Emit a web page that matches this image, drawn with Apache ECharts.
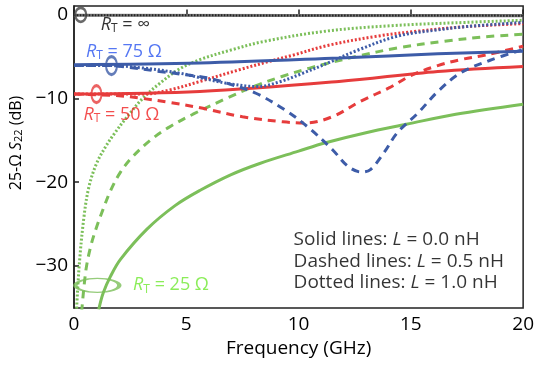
<!DOCTYPE html>
<html><head><meta charset="utf-8">
<script src="https://cdn.jsdelivr.net/npm/echarts@6/dist/echarts.min.js"></script>
<style>html,body{margin:0;padding:0;background:#fff}#c{width:537px;height:367px}</style>
</head><body><div id="c"></div>
<script>
// ---- data (frequency in GHz, S22 in dB) ----
const xTicks = [0, 5, 10, 15, 20];
const yTicks = [-30, -20, -10, 0];

const blackX = [0, 20];
const blackY = [-0.1, -0.15];

const blueSolidX = [0, 5.6, 11.8, 16.2, 20];
const blueSolidY = [-6.0, -5.8, -5.2, -4.7, -4.4];
const blueDashX = [0, 1.5, 2.4, 3.8, 5.0, 6.0, 6.8, 8.1, 9.4, 10.4, 11.5, 12.2, 12.8, 13.2, 13.8, 14.4, 15.3, 16.2, 17.2, 18.5, 20];
const blueDashY = [-6.1, -6.1, -6.3, -6.8, -7.2, -7.6, -8.2, -9.4, -11.4, -13.4, -16.1, -18.1, -18.8, -18.5, -16.5, -14.1, -11.8, -9.2, -7.0, -5.5, -4.2];
const blueDotX = [0, 1.5, 3.1, 4.7, 5.7, 7.0, 8.2, 9.2, 10.2, 11.3, 12.6, 14.4, 16.2, 17.5, 20];
const blueDotY = [-6.1, -6.1, -6.4, -7.0, -7.6, -8.3, -8.6, -8.0, -7.0, -5.8, -4.3, -2.6, -1.85, -1.45, -0.95];

const redSolidX = [0, 5.6, 11.8, 16.2, 20];
const redSolidY = [-9.5, -9.2, -8.0, -6.8, -6.2];
const redDashX = [0, 2, 3, 4.27, 5.74, 7.5, 9.3, 10.3, 11.5, 12.8, 14.0, 15.0, 16.2, 17.2, 18.4, 20];
const redDashY = [-9.5, -9.7, -10.0, -10.5, -11.2, -12.2, -12.8, -12.95, -12.2, -10.3, -8.8, -7.3, -6.1, -5.4, -4.8, -3.8];
const redDotX = [0, 2, 3.1, 4.27, 5.6, 7.36, 8.7, 9.7, 11.3, 13.5, 15.3, 17.5, 20];
const redDotY = [-9.5, -9.5, -9.5, -9.0, -8.0, -6.6, -5.6, -4.9, -3.7, -2.6, -2.0, -1.45, -1.1];

const greenSolidX = [1.1, 1.3, 1.63, 2.07, 3.25, 4.5, 5.6, 7.0, 8.24, 10, 11.2, 13, 14.8, 17, 20];
const greenSolidY = [-35.2, -33.2, -31.2, -29.2, -25.6, -22.8, -21.0, -19.1, -17.8, -16.3, -15.3, -14.1, -13.1, -11.9, -10.7];
const greenDashX = [0.34, 0.53, 0.75, 1.0, 1.3, 1.63, 2.07, 2.6, 3.4, 4.2, 5.3, 6.8, 8.1, 9.26, 10.5, 11.5, 12.6, 14.4, 16.5, 18.2, 20];
const greenDashY = [-35.5, -30.5, -27.6, -25.4, -23.2, -21.0, -18.8, -17.0, -15.0, -13.5, -11.9, -10.0, -8.5, -7.4, -6.4, -5.7, -5.0, -4.0, -3.2, -2.7, -2.36];
const greenDotX = [0.1, 0.23, 0.45, 0.67, 1.0, 1.4, 1.8, 2.37, 3.1, 3.83, 4.7, 5.6, 7.05, 8.5, 11.2, 14.1, 17, 20];
const greenDotY = [-36, -30, -24, -20.5, -17.8, -15.8, -14.2, -12.2, -9.9, -8.2, -6.5, -5.4, -4.2, -3.2, -2.0, -1.35, -1.0, -0.7];

// annotation anchors (data coords)
const ringX = [0.3, 1.67, 1.0, 1.04];
const ringY = [-0.05, -6.1, -9.5, -32.3];
const labelTexts = ['∞', '75 Ω', '50 Ω', '25 Ω'];
const labelX = [1.19, 0.53, 0.42, 2.63];
const labelY = [-1.25, -4.43, -12.0, -32.3];
const noteTexts = ['Solid lines: ', 'Dashed lines: ', 'Dotted lines: '];
const noteValues = ['0.0', '0.5', '1.0'];
const noteX = 9.78;
const noteY = [-26.85, -29.43, -32.0];

const zip = (xs, ys) => xs.map((x, i) => [x, ys[i]]);

const BLUE = '#3d5ca8', RED = '#e63c3c', GREEN = '#7cbf5a';
const BLUE_T = '#2a55f0', RED_T = '#f02222', GREEN_T = '#6ee830';
const FONT = 'Open Sans';
const FS = 19;
const FSL = 18;

function line(name, xs, ys, color, type, width) {
  return {
    name, type: 'line', data: zip(xs, ys), symbol: 'none', smooth: 0.35,
    lineStyle: { color, width: width || 3, type, cap: 'butt' },
    z: 3, silent: true
  };
}
const lineDot = [2, 2], lineDash = [8, 6];

const chart = echarts.init(document.getElementById('c'), null, { renderer: 'canvas' });
const ringSizes = [[11, 14], [11, 18], [10, 17], [44, 14]];
const ringColors = ['#444', BLUE, RED, GREEN];
const labelColors = ['#000', BLUE_T, RED_T, GREEN_T];

const option = {
  animation: false,
  textStyle: { fontFamily: FONT },
  grid: { left: 73, right: 10, top: 6, bottom: 59, show: true, borderColor: '#222', borderWidth: 1.5, backgroundColor: 'transparent' },
  xAxis: {
    type: 'value', min: 0, max: 20,
    name: 'Frequency (GHz)', nameLocation: 'middle', nameGap: 31,
    nameTextStyle: { fontSize: FS, color: '#000', fontFamily: FONT },
    axisLine: { lineStyle: { color: '#222', width: 1.5 } },
    axisTick: { inside: true, length: 5, customValues: xTicks, lineStyle: { color: '#222', width: 1.5 } },
    axisLabel: { customValues: xTicks, fontSize: FS, color: '#000', margin: 7, fontFamily: FONT },
    splitLine: { show: false }
  },
  yAxis: {
    type: 'value', min: -35, max: 1,
    name: '{n|25-Ω }{i|S}{s|22}{n| (dB)}', nameLocation: 'middle', nameGap: 43, nameRotate: 90,
    nameTextStyle: {
      fontSize: 16, color: '#000', fontFamily: FONT, padding: [0, 0, 0, 28],
      rich: {
        n: { fontSize: 16, fontFamily: FONT, color: '#000' },
        i: { fontSize: 16, fontFamily: FONT, fontStyle: 'italic', color: '#000' },
        s: { fontSize: 11, fontFamily: FONT, color: '#000', padding: [6, 0, 0, 0] }
      }
    },
    axisLine: { lineStyle: { color: '#222', width: 1.5 } },
    axisTick: { inside: true, length: 5, customValues: yTicks, lineStyle: { color: '#222', width: 1.5 } },
    axisLabel: { customValues: yTicks, fontSize: FS, color: '#000', margin: 6, fontFamily: FONT,
      formatter: v => v < 0 ? '\u2212' + Math.abs(v) : String(v) },
    splitLine: { show: false }
  },
  series: [
    line('black', blackX, blackY, '#777', 'solid', 3),
    line('black dots', blackX, blackY, '#222', [1.5, 1.5], 2),
    line('green solid', greenSolidX, greenSolidY, GREEN, 'solid', 3),
    line('green dash', greenDashX, greenDashY, GREEN, lineDash, 3),
    line('green dot', greenDotX, greenDotY, GREEN, lineDot, 3),
    line('red solid', redSolidX, redSolidY, RED, 'solid', 3),
    line('red dash', redDashX, redDashY, RED, lineDash, 3),
    line('red dot', redDotX, redDotY, RED, lineDot, 3),
    line('blue solid', blueSolidX, blueSolidY, BLUE, 'solid', 3),
    line('blue dash', blueDashX, blueDashY, BLUE, lineDash, 3),
    line('blue dot', blueDotX, blueDotY, BLUE, lineDot, 3),
    {
      name: 'rings', type: 'scatter', silent: true, z: 5,
      data: ringX.map((x, i) => ({
        value: [x, ringY[i]], symbol: 'circle', symbolSize: ringSizes[i],
        itemStyle: { color: 'rgba(0,0,0,0)', borderColor: ringColors[i], borderWidth: 2.5 }
      }))
    },
    {
      name: 'labels', type: 'scatter', silent: true, z: 6, symbolSize: 0,
      data: labelX.map((x, i) => ({
        value: [x, labelY[i]],
        label: {
          show: true, position: 'right', distance: 0,
          formatter: '{i|R}{s|T}{n| = ' + labelTexts[i] + '}',
          rich: {
            i: { fontSize: FSL, fontStyle: 'italic', fontFamily: FONT, color: labelColors[i] },
            s: { fontSize: 12, fontFamily: FONT, color: labelColors[i], padding: [8, 0, 0, 0] },
            n: { fontSize: FSL, fontFamily: FONT, color: labelColors[i] }
          }
        }
      }))
    },
    {
      name: 'notes', type: 'scatter', silent: true, z: 6, symbolSize: 0,
      data: noteY.map((y, i) => ({
        value: [noteX, y],
        label: {
          show: true, position: 'right', distance: 0,
          formatter: '{n|' + noteTexts[i] + '}{i|L}{n| = ' + noteValues[i] + ' nH}',
          rich: {
            n: { fontSize: FS, fontFamily: FONT, color: '#000' },
            i: { fontSize: FS, fontFamily: FONT, fontStyle: 'italic', color: '#000' }
          }
        }
      }))
    }
  ]
};
chart.setOption(option);
</script>
</body></html>
